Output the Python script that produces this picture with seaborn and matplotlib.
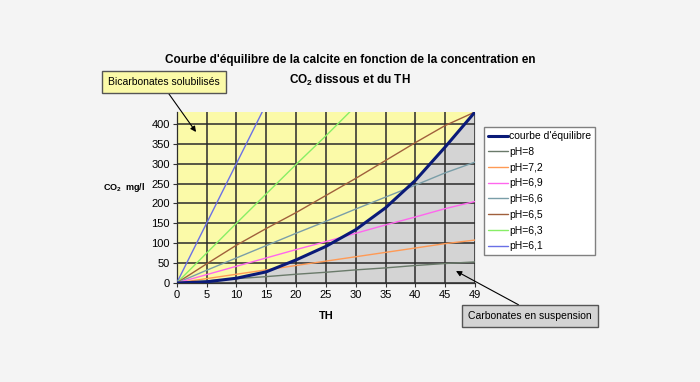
import numpy as np
import pandas as pd
import matplotlib
matplotlib.use("Agg")
import matplotlib.pyplot as plt
import seaborn as sns

# ---- data -------------------------------------------------------------
th_labels = ["0", "5", "10", "15", "20", "25", "30", "35", "40", "45", "49"]
equilibre = [0, 3, 12, 28, 58, 92, 134, 189, 258, 342, 430]
ph_8 = [0, 5, 11, 16, 22, 27, 33, 38, 44, 49, 53]
ph_7_2 = [0, 11, 22, 33, 44, 55, 66, 77, 88, 99, 108]
ph_6_9 = [0, 21, 42, 63, 84, 104, 125, 146, 166, 187, 205]
ph_6_6 = [0, 32, 63, 94, 125, 155, 186, 216, 246, 277, 304]
ph_6_5 = [0, 48, 95, 137, 177, 220, 263, 308, 353, 396, 430]
ph_6_3 = [0, 75, 150, 224, 298, 370, 445, None, None, None, None]
ph_6_1 = [0, 150, 300, 450, None, None, None, None, None, None, None]

series_names = ["courbe d'équilibre", "pH=8", "pH=7,2", "pH=6,9",
                "pH=6,6", "pH=6,5", "pH=6,3", "pH=6,1"]
series_values = [equilibre, ph_8, ph_7_2, ph_6_9, ph_6_6, ph_6_5, ph_6_3, ph_6_1]
colors = ["#0a1a78", "#6a7a6a", "#ff9a55", "#ff66ee", "#7a9ea8",
          "#a0603c", "#88ee66", "#6a70e6"]
widths = [2.2, 1.0, 1.0, 1.0, 1.0, 1.0, 1.0, 1.0]

# ---- style --------------------------------------------------------------
sns.set_style("white")
plt.rcParams["font.family"] = ["Liberation Sans", "DejaVu Sans"]
plt.rcParams["mathtext.fontset"] = "custom"
plt.rcParams["mathtext.rm"] = "Liberation Sans"
plt.rcParams["mathtext.bf"] = "Liberation Sans:bold"
plt.rcParams["text.color"] = "black"
plt.rcParams["axes.labelcolor"] = "black"
plt.rcParams["xtick.color"] = "black"
plt.rcParams["ytick.color"] = "black"

W, H = 700, 382
fig = plt.figure(figsize=(W / 100, H / 100), dpi=100)
fig.patch.set_facecolor("#f4f4f4")

left, right, top, bottom = 176.7, 475, 112, 283
ax = fig.add_axes([left / W, (H - bottom) / H, (right - left) / W, (bottom - top) / H])
ax.set_facecolor("#fbfaa8")

x = np.arange(len(th_labels))
rows = []
for name, vals in zip(series_names, series_values):
    for xi, v in zip(x, vals):
        rows.append({"pos": xi, "co2": np.nan if v is None else v, "serie": name})
df = pd.DataFrame(rows)

# grey area below the equilibrium curve
ax.fill_between(x, 0, equilibre, color="#d4d4d4", zorder=1, linewidth=0)

# draw thin lines first, then the equilibrium curve on top
for name, c, lw in list(zip(series_names, colors, widths))[1:][::-1] + [(series_names[0], colors[0], widths[0])]:
    sub = df[df["serie"] == name].dropna()
    sns.lineplot(data=sub, x="pos", y="co2", ax=ax, color=c, linewidth=lw,
                 label=name, zorder=3, sort=False, estimator=None)

ax.set_xlim(0, len(th_labels) - 1)
ax.set_ylim(0, 430)
ax.set_xticks(x)
ax.set_xticklabels(th_labels)
ax.set_yticks(np.arange(0, 401, 50))
ax.tick_params(axis="both", labelsize=8, length=3, width=0.8, color="#333333",
               direction="out", pad=2, bottom=True, left=True)
ax.grid(True, color="#2a2a2a", linewidth=1.1)
ax.set_axisbelow(False)
for sp in ["top", "right"]:
    ax.spines[sp].set_visible(False)
for sp in ["left", "bottom"]:
    ax.spines[sp].set_color("#333333")
    ax.spines[sp].set_linewidth(0.9)

ax.set_xlabel("TH", fontsize=8, fontweight="bold", labelpad=8)
ax.set_ylabel("")
fig.text(124 / W, 1 - 188 / H, r"CO$_\mathbf{2}$  mg/l", fontsize=6.5,
         fontweight="bold", ha="center", va="center")

# legend in the requested order
handles, labels = ax.get_legend_handles_labels()
order = [labels.index(n) for n in series_names]
leg = ax.legend([handles[i] for i in order], [labels[i] for i in order],
                loc="upper left", bbox_to_anchor=(484 / W, 1 - 127 / H),
                bbox_transform=fig.transFigure, fontsize=7.5, frameon=True,
                fancybox=False, edgecolor="#808080", facecolor="white",
                framealpha=1, borderpad=0.4, labelspacing=0.55,
                handlelength=1.9, handletextpad=0.1, borderaxespad=0)
leg.get_frame().set_linewidth(1.0)

# title
fig.text(350 / W, 1 - 60 / H,
         "Courbe d'équilibre de la calcite en fonction de la concentration en",
         fontsize=8.5, fontweight="bold", ha="center", va="center")
fig.text(350 / W, 1 - 80 / H, r"CO$_\mathbf{2}$ dissous et du TH",
         fontsize=8.5, fontweight="bold", ha="center", va="center")

# annotations
ax.annotate("Bicarbonates solubilisés", xy=(196, H - 132), xycoords="figure pixels",
            xytext=(164, H - 82), textcoords="figure pixels",
            fontsize=7.5, ha="center", va="center",
            bbox=dict(boxstyle="square,pad=0.55", fc="#fbfaa8", ec="#555555", lw=1),
            arrowprops=dict(arrowstyle="-|>", color="black", lw=0.8,
                            mutation_scale=8, shrinkA=0, shrinkB=0,
                            relpos=(0.5, 0.0)),
            annotation_clip=False)
ax.annotate("Carbonates en suspension", xy=(456, H - 271), xycoords="figure pixels",
            xytext=(530, H - 316), textcoords="figure pixels",
            fontsize=7.5, ha="center", va="center",
            bbox=dict(boxstyle="square,pad=0.55", fc="#d4d4d4", ec="#555555", lw=1),
            arrowprops=dict(arrowstyle="-|>", color="black", lw=0.8,
                            mutation_scale=8, shrinkA=0, shrinkB=0,
                            relpos=(0.5, 1.0)),
            annotation_clip=False)

fig.savefig("out.png", dpi=100, facecolor=fig.get_facecolor())
